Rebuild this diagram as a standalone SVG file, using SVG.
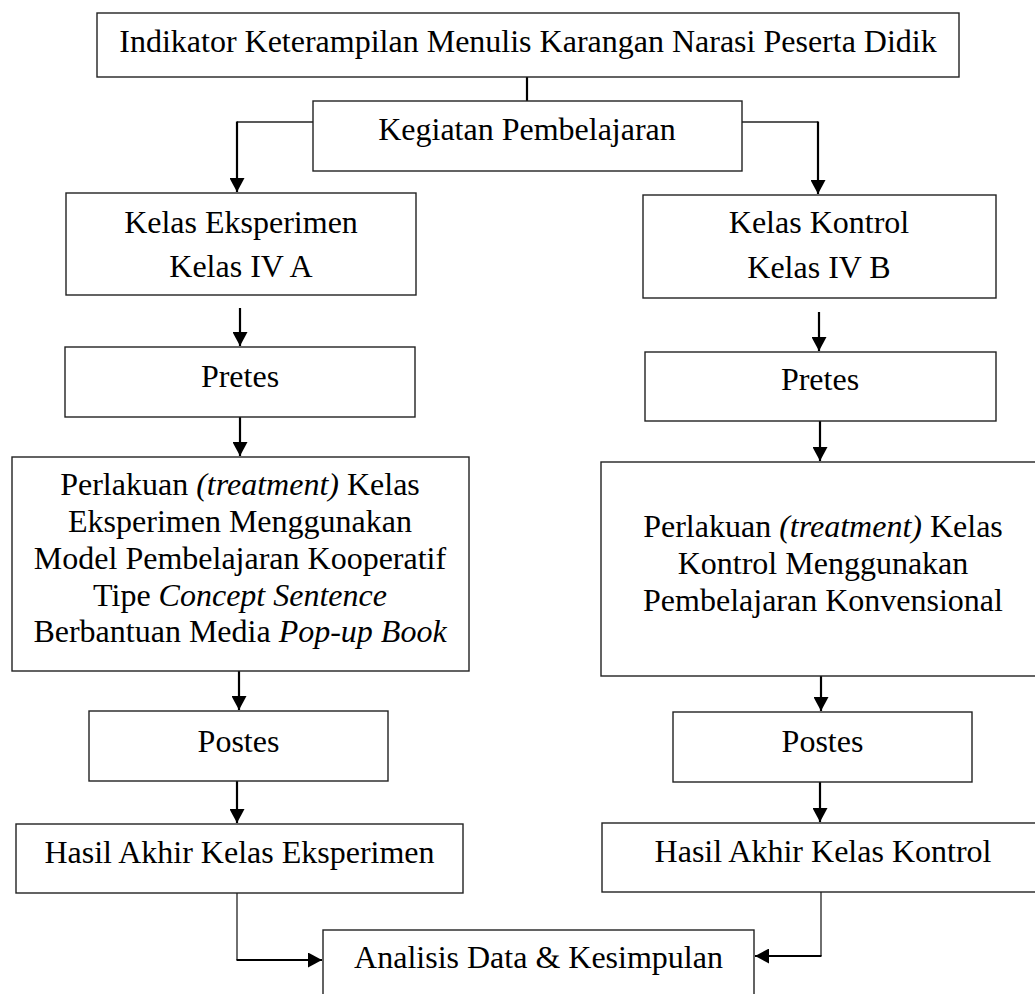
<svg xmlns="http://www.w3.org/2000/svg" width="1035" height="994" viewBox="0 0 1035 994">
<style>
.box{fill:#fff;stroke:#222;stroke-width:1.4}
.t{font-family:"Liberation Serif","Times New Roman",serif;font-size:32px;fill:#000;text-anchor:middle}
.i{font-style:italic}
.thick{fill:none;stroke:#000;stroke-width:2.2}
.thin{fill:none;stroke:#222;stroke-width:1.3}
</style>
<defs>
<marker id="ah" markerUnits="userSpaceOnUse" markerWidth="15" markerHeight="15" refX="14" refY="7.5" orient="auto" viewBox="0 0 15 15">
<path d="M0,0 L14,7.5 L0,15 Z" fill="#000"/>
</marker>
</defs>
<rect width="1035" height="994" fill="#fff"/>

<g id="connectors">
<path class="thick" d="M527,77 V101"/>
<path class="thin" d="M313,122 H237"/>
<path class="thick" d="M237,121.5 V192" marker-end="url(#ah)"/>
<path class="thin" d="M742,122 H818"/>
<path class="thick" d="M818,121.5 V194" marker-end="url(#ah)"/>
<path class="thick" d="M240,308 V346" marker-end="url(#ah)"/>
<path class="thick" d="M240,417 V456" marker-end="url(#ah)"/>
<path class="thick" d="M239,671 V710" marker-end="url(#ah)"/>
<path class="thick" d="M237,781 V823" marker-end="url(#ah)"/>
<path class="thin" d="M237,893 V960"/>
<path class="thick" d="M236.5,960 H322" marker-end="url(#ah)"/>
<path class="thick" d="M819,312 V351" marker-end="url(#ah)"/>
<path class="thick" d="M820,421 V461" marker-end="url(#ah)"/>
<path class="thick" d="M821,676 V711" marker-end="url(#ah)"/>
<path class="thick" d="M820,782 V822" marker-end="url(#ah)"/>
<path class="thin" d="M821,892 V956"/>
<path class="thick" d="M821.5,956 H755" marker-end="url(#ah)"/>
</g>

<g id="indikator">
<rect class="box" x="97" y="13" width="862" height="64"/>
<text class="t" x="528" y="52">Indikator Keterampilan Menulis Karangan Narasi Peserta Didik</text>
</g>

<g id="kegiatan">
<rect class="box" x="313" y="101" width="429" height="70"/>
<text class="t" x="527" y="140">Kegiatan Pembelajaran</text>
</g>

<g id="kelas-eksperimen">
<rect class="box" x="66" y="193" width="350" height="102"/>
<text class="t" x="241" y="233">Kelas Eksperimen</text>
<text class="t" x="241" y="277">Kelas IV A</text>
</g>

<g id="kelas-kontrol">
<rect class="box" x="643" y="195" width="353" height="103"/>
<text class="t" x="819" y="233">Kelas Kontrol</text>
<text class="t" x="819" y="278">Kelas IV B</text>
</g>

<g id="pretes-eksperimen">
<rect class="box" x="65" y="347" width="350" height="70"/>
<text class="t" x="240" y="387">Pretes</text>
</g>

<g id="pretes-kontrol">
<rect class="box" x="645" y="352" width="351" height="69"/>
<text class="t" x="820" y="390">Pretes</text>
</g>

<g id="perlakuan-eksperimen">
<rect class="box" x="12" y="457" width="457" height="214"/>
<text class="t" x="240" y="495">Perlakuan <tspan class="i">(treatment)</tspan> Kelas</text>
<text class="t" x="240" y="532">Eksperimen Menggunakan</text>
<text class="t" x="240" y="568.5">Model Pembelajaran Kooperatif</text>
<text class="t" x="240" y="605.5">Tipe <tspan class="i">Concept Sentence</tspan></text>
<text class="t" x="240" y="642">Berbantuan Media <tspan class="i">Pop-up Book</tspan></text>
</g>

<g id="perlakuan-kontrol">
<rect class="box" x="601" y="462" width="444" height="214"/>
<text class="t" x="823" y="537">Perlakuan <tspan class="i">(treatment)</tspan> Kelas</text>
<text class="t" x="823" y="574">Kontrol Menggunakan</text>
<text class="t" x="823" y="611">Pembelajaran Konvensional</text>
</g>

<g id="postes-eksperimen">
<rect class="box" x="89" y="711" width="299" height="70"/>
<text class="t" x="238.5" y="752">Postes</text>
</g>

<g id="postes-kontrol">
<rect class="box" x="673" y="712" width="299" height="70"/>
<text class="t" x="822.5" y="752">Postes</text>
</g>

<g id="hasil-eksperimen">
<rect class="box" x="16" y="824" width="447" height="69"/>
<text class="t" x="239.5" y="863">Hasil Akhir Kelas Eksperimen</text>
</g>

<g id="hasil-kontrol">
<rect class="box" x="602" y="823" width="443" height="69"/>
<text class="t" x="823" y="862">Hasil Akhir Kelas Kontrol</text>
</g>

<g id="analisis">
<rect class="box" x="323" y="930" width="431" height="80"/>
<text class="t" x="538.5" y="968">Analisis Data &amp; Kesimpulan</text>
</g>
</svg>
